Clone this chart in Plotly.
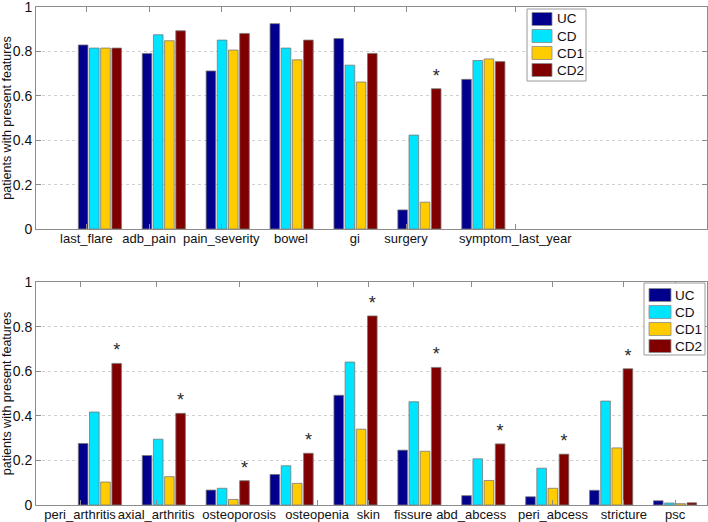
import plotly.graph_objects as go

series = ["UC", "CD", "CD1", "CD2"]
colors = ["#00008C", "#00E4FF", "#FFCC00", "#800000"]

top_categories = ["last_flare", "adb_pain", "pain_severity", "bowel", "gi", "surgery", "symptom_last_year"]
top_uc = [0.829, 0.791, 0.712, 0.925, 0.858, 0.086, 0.674]
top_cd = [0.815, 0.875, 0.851, 0.815, 0.738, 0.423, 0.759]
top_cd1 = [0.815, 0.848, 0.806, 0.762, 0.662, 0.121, 0.766]
top_cd2 = [0.815, 0.893, 0.881, 0.851, 0.791, 0.632, 0.754]
top_sig = [False, False, False, False, False, True, False]
top_tick_pos = [0.79, 1.77, 2.90, 3.99, 4.99, 5.79, 7.50]

bot_categories = ["peri_arthritis", "axial_arthritis", "osteoporosis", "osteopenia", "skin",
                  "fissure", "abd_abcess", "peri_abcess", "stricture", "psc"]
bot_uc = [0.276, 0.222, 0.067, 0.137, 0.492, 0.246, 0.042, 0.037, 0.066, 0.019]
bot_cd = [0.417, 0.295, 0.075, 0.176, 0.641, 0.463, 0.207, 0.165, 0.466, 0.009]
bot_cd1 = [0.103, 0.127, 0.025, 0.097, 0.340, 0.241, 0.110, 0.075, 0.256, 0.006]
bot_cd2 = [0.635, 0.411, 0.109, 0.232, 0.848, 0.617, 0.274, 0.228, 0.611, 0.010]
bot_sig = [True, True, True, True, True, True, True, True, True, False]
bot_tick_pos = [0.69, 1.88, 3.18, 4.40, 5.20, 5.90, 6.81, 8.09, 9.20, 10.0]

y_ticks = [0, 0.2, 0.4, 0.6, 0.8, 1]
y_tick_text = ["0", "0.2", "0.4", "0.6", "0.8", "1"]
y_title = "patients with present features"

FONT = "Liberation Sans, Arial, sans-serif"
AX = "#8c8c8c"
W, H = 708, 522
ML, MR, MT, MB = 36, 1, 7, 17

fig = go.Figure()

def add_panel(vals_list, sig, xaxis, yaxis):
    n = len(vals_list[0])
    xs = list(range(1, n + 1))
    for i, (name, vals) in enumerate(zip(series, vals_list)):
        kw = {}
        if i == 3:
            kw = dict(text=["*" if s else "" for s in sig], textposition="outside",
                      textfont=dict(size=18, color="#2a2a2a", family=FONT),
                      constraintext="none", cliponaxis=False)
        fig.add_trace(go.Bar(
            x=xs, y=vals, name=name, xaxis=xaxis, yaxis=yaxis, showlegend=False,
            marker=dict(color=colors[i], line=dict(color="#7a7a7a", width=0.8)),
            hoverinfo="x+y+name", **kw))

add_panel([top_uc, top_cd, top_cd1, top_cd2], top_sig, "x", "y")
add_panel([bot_uc, bot_cd, bot_cd1, bot_cd2], bot_sig, "x2", "y2")

# --- legend boxes drawn as shapes/annotations (MATLAB-style large swatches) ---
def px(xp):
    return (xp - ML) / (W - ML - MR)

def py(yp):
    return 1 - (yp - MT) / (H - MT - MB)

legend_boxes = [
    dict(x0=527, x1=586, y0=9, y1=81, sw0=532, sw1=552, tx=555, rows=[19, 36, 53, 70]),
    dict(x0=644, x1=705, y0=283, y1=355, sw0=649, sw1=671, tx=673, rows=[295, 312, 329, 346]),
]
shapes, annotations = [], []
for box in legend_boxes:
    shapes.append(dict(type="rect", xref="paper", yref="paper", x0=px(box["x0"]), x1=px(box["x1"]),
                       y0=py(box["y1"]), y1=py(box["y0"]), fillcolor="white",
                       line=dict(color="#9a9a9a", width=1), layer="above"))
    for name, col, yc in zip(series, colors, box["rows"]):
        shapes.append(dict(type="rect", xref="paper", yref="paper", x0=px(box["sw0"]), x1=px(box["sw1"]),
                           y0=py(yc + 6.5), y1=py(yc - 6.5), fillcolor=col,
                           line=dict(color="#8a8a8a", width=0.8), layer="above"))
        annotations.append(dict(xref="paper", yref="paper", x=px(box["tx"]), y=py(yc), text=name,
                                showarrow=False, xanchor="left", yanchor="middle",
                                font=dict(size=13.5, color="#111111", family=FONT)))

xcommon = dict(range=[0, 10.5], showgrid=False, zeroline=False, showline=True, linecolor=AX,
               linewidth=1, mirror="ticks", ticks="inside", ticklen=5, tickcolor=AX,
               tickfont=dict(size=13, color="#111111", family=FONT), automargin=False,
               fixedrange=True, ticklabelstandoff=-3, tickangle=0, ticklabeloverflow="allow")
ycommon = dict(range=[0, 1], tickvals=y_ticks, ticktext=y_tick_text, showgrid=True,
               gridcolor="#d0d0d0", griddash="dot", gridwidth=1, zeroline=False, showline=True,
               linecolor=AX, linewidth=1, mirror="ticks", ticks="inside", ticklen=5, tickcolor=AX,
               tickfont=dict(size=14, color="#111111", family=FONT), automargin=False,
               ticklabeloverflow="allow",
               title=dict(text=y_title, font=dict(size=12.5, color="#111111", family=FONT), standoff=3),
               fixedrange=True)

fig.update_layout(
    width=W, height=H,
    margin=dict(l=ML, r=MR, t=MT, b=MB, autoexpand=False),
    paper_bgcolor="white", plot_bgcolor="white",
    barmode="group", bargap=0.3, bargroupgap=0.14,
    font=dict(family=FONT, size=13, color="#111111"),
    xaxis=dict(xcommon, domain=[0, 1], anchor="y", tickvals=top_tick_pos, ticktext=top_categories),
    yaxis=dict(ycommon, domain=[0.5542, 1], anchor="x"),
    xaxis2=dict(xcommon, domain=[0, 1], anchor="y2", tickvals=bot_tick_pos, ticktext=bot_categories),
    yaxis2=dict(ycommon, domain=[0, 0.4478], anchor="x2"),
    showlegend=False,
    shapes=shapes,
    annotations=annotations,
)

fig.write_html("out.html", config={"displayModeBar": False},
               post_script="document.body.style.margin='0';document.body.style.overflow='hidden';")
